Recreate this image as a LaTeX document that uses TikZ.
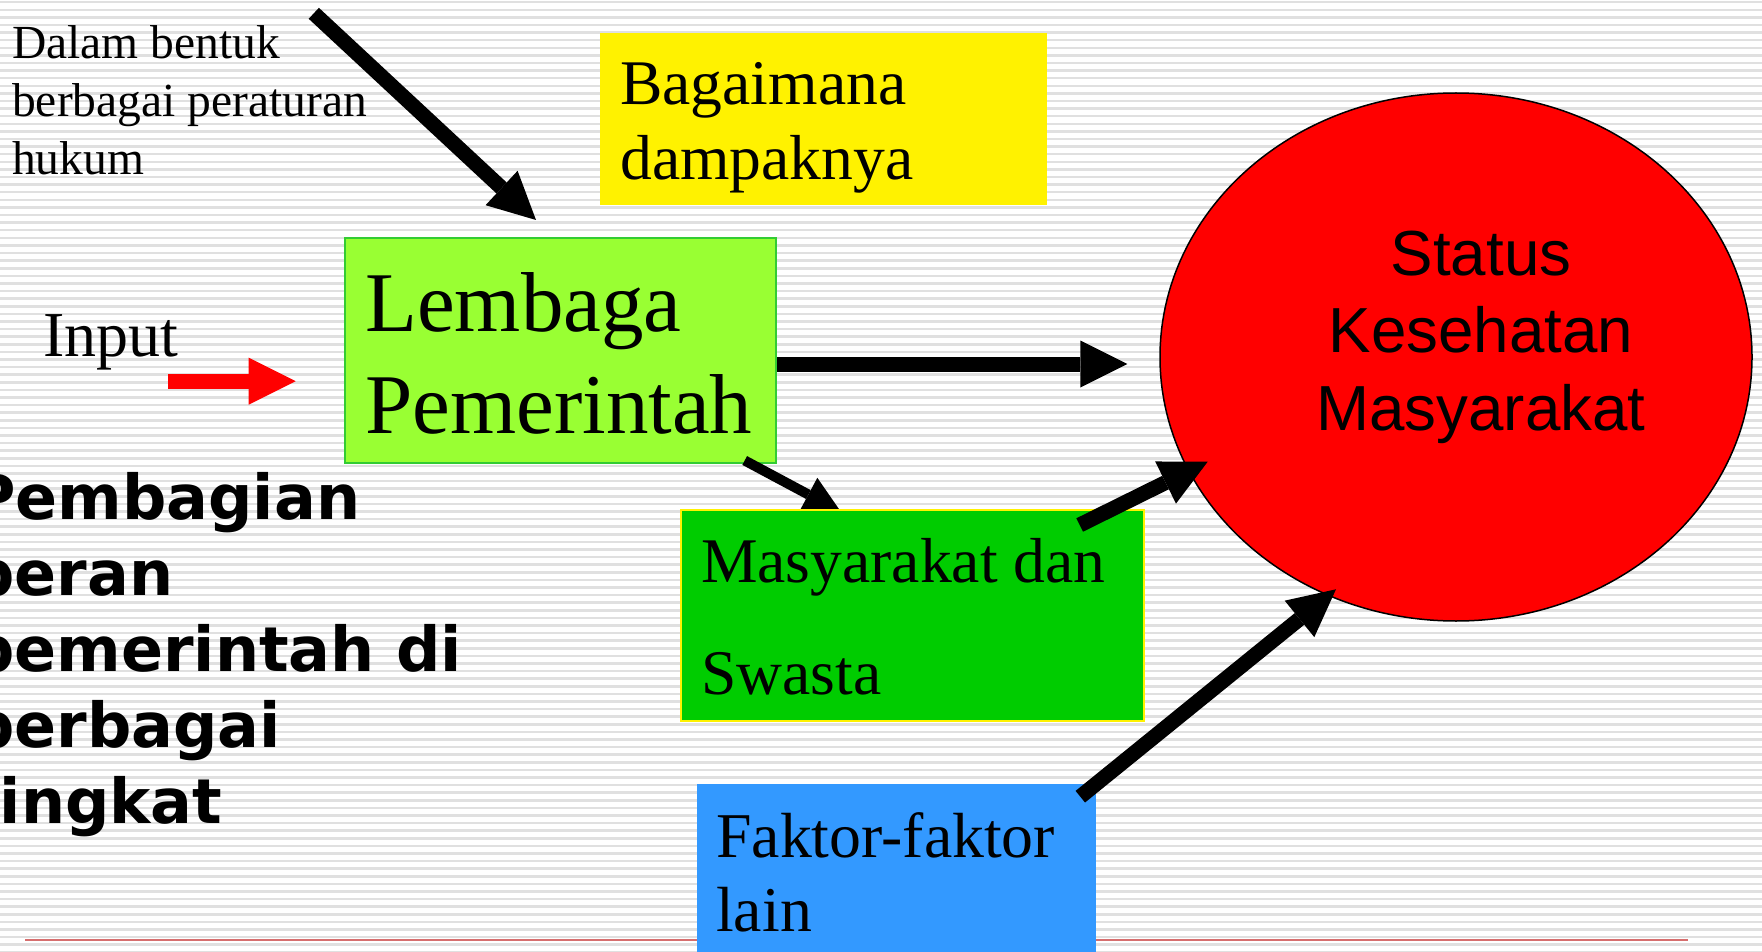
\documentclass[tikz,border=0pt]{standalone}
\usepackage{fontspec}
\setmainfont{Liberation Serif}
\newfontfamily\arialfont{Liberation Sans}
\newfontfamily\verdfont{DejaVu Sans}
\usetikzlibrary{arrows.meta,shapes.geometric}
\definecolor{stripegray}{RGB}{224,224,224}
\definecolor{lgreen}{RGB}{153,255,51}
\definecolor{bgreen}{RGB}{51,204,51}
\definecolor{mgreen}{RGB}{0,204,0}
\definecolor{fblue}{RGB}{51,153,255}
\definecolor{redline}{RGB}{214,110,110}
\tikzset{
  box/.style={rectangle, inner sep=0pt, anchor=north west},
  txt/.style={inner sep=0pt, anchor=base west, align=left},
  bigarrow/.style={line width=15pt, -{Triangle[length=47pt,width=47pt,line width=0pt]}},
  smallarrow/.style={line width=10pt, -{Triangle[length=37pt,width=38pt,line width=0pt]}},
}
\begin{document}
\begin{tikzpicture}[x=1pt,y=-1pt]
\useasboundingbox (0,0) rectangle (1762,952);
\clip (0,0) rectangle (1762,952);
\fill[white] (0,0) rectangle (1762,952);
\foreach \i in {0,...,125} \fill[stripegray] (0,{1+\i*7.6}) rectangle (1762,{3.5+\i*7.6});
% bottom rule
\coordinate (rl) at (25,940);
\coordinate (rr) at (1688,940);
\draw[redline, line width=2pt] (rl) -- (rr);
% boxes
\node[box, fill=lgreen, draw=bgreen, line width=2pt, minimum width=431pt, minimum height=225pt] (lembaga) at (344,237) {};
\node[box, fill=yellow, minimum width=447pt, minimum height=172pt] (bagaimana) at (600,33) {};
\coordinate (a4s) at (744.7,460.5);
\coordinate (a4e) at (841,512);
\draw[smallarrow] (a4s) -- (a4e);
\node[box, fill=mgreen, draw=yellow, line width=2pt, minimum width=463pt, minimum height=211pt] (ms) at (680,509) {};
\node[box, fill=fblue, minimum width=399pt, minimum height=190pt] (faktor) at (697,784) {};
\node[ellipse, draw, line width=1.5pt, fill=red, minimum width=592pt, minimum height=528pt, inner sep=0pt] (status) at (1456,357) {};
% arrows
\coordinate (a1s) at (313.8,13.3);
\coordinate (a1e) at (536,220);
\draw[bigarrow] (a1s) -- (a1e);
\coordinate (a2s) at (168.3,381.2);
\coordinate (a2e) at (295.7,381.2);
\draw[bigarrow, red] (a2s) -- (a2e);
\coordinate (a3e) at (1127.3,364);
\draw[bigarrow] (lembaga.east |- a3e) -- (a3e);
\coordinate (a5s) at (1079.7,525);
\coordinate (a5e) at (1207.7,461.7);
\draw[bigarrow] (a5s) -- (a5e);
\coordinate (a6s) at (1080.3,796.7);
\coordinate (a6e) at (1336,589.3);
\draw[bigarrow] (a6s) -- (a6e);
% texts (base anchor = baseline of the last line)
\node[txt, font=\fontsize{47.5}{58}\selectfont] (dalam) at (12,174.2) {Dalam bentuk\\berbagai peraturan\\hukum};
\node[txt, font=\fontsize{64}{70}\selectfont] (input) at (43,356) {Input};
\node[txt, font=\fontsize{85}{102}\selectfont] (lemtxt) at (365,433) {Lembaga\\Pemerintah};
\node[txt, font=\fontsize{63.6}{75.5}\selectfont] (bagtxt) at (620,180) {Bagaimana\\dampaknya};
\node[txt, font=\fontsize{63.6}{112.5}\selectfont] (mstxt) at (701,694.5) {Masyarakat dan\\Swasta};
\node[txt, font=\fontsize{63.8}{74.5}\selectfont] (faktxt) at (716,931.5) {Faktor-faktor\\lain};
\node[inner sep=0pt, anchor=base, align=center, font=\arialfont\fontsize{63.7}{77.5}\selectfont] (statustxt) at (1481,430) {Status\\Kesehatan\\Masyarakat};
\node[txt, font=\verdfont\bfseries\fontsize{62}{76}\selectfont] (peran) at (-30,823) {Pembagian\\peran\\pemerintah di\\berbagai\\tingkat};
\end{tikzpicture}
\end{document}
